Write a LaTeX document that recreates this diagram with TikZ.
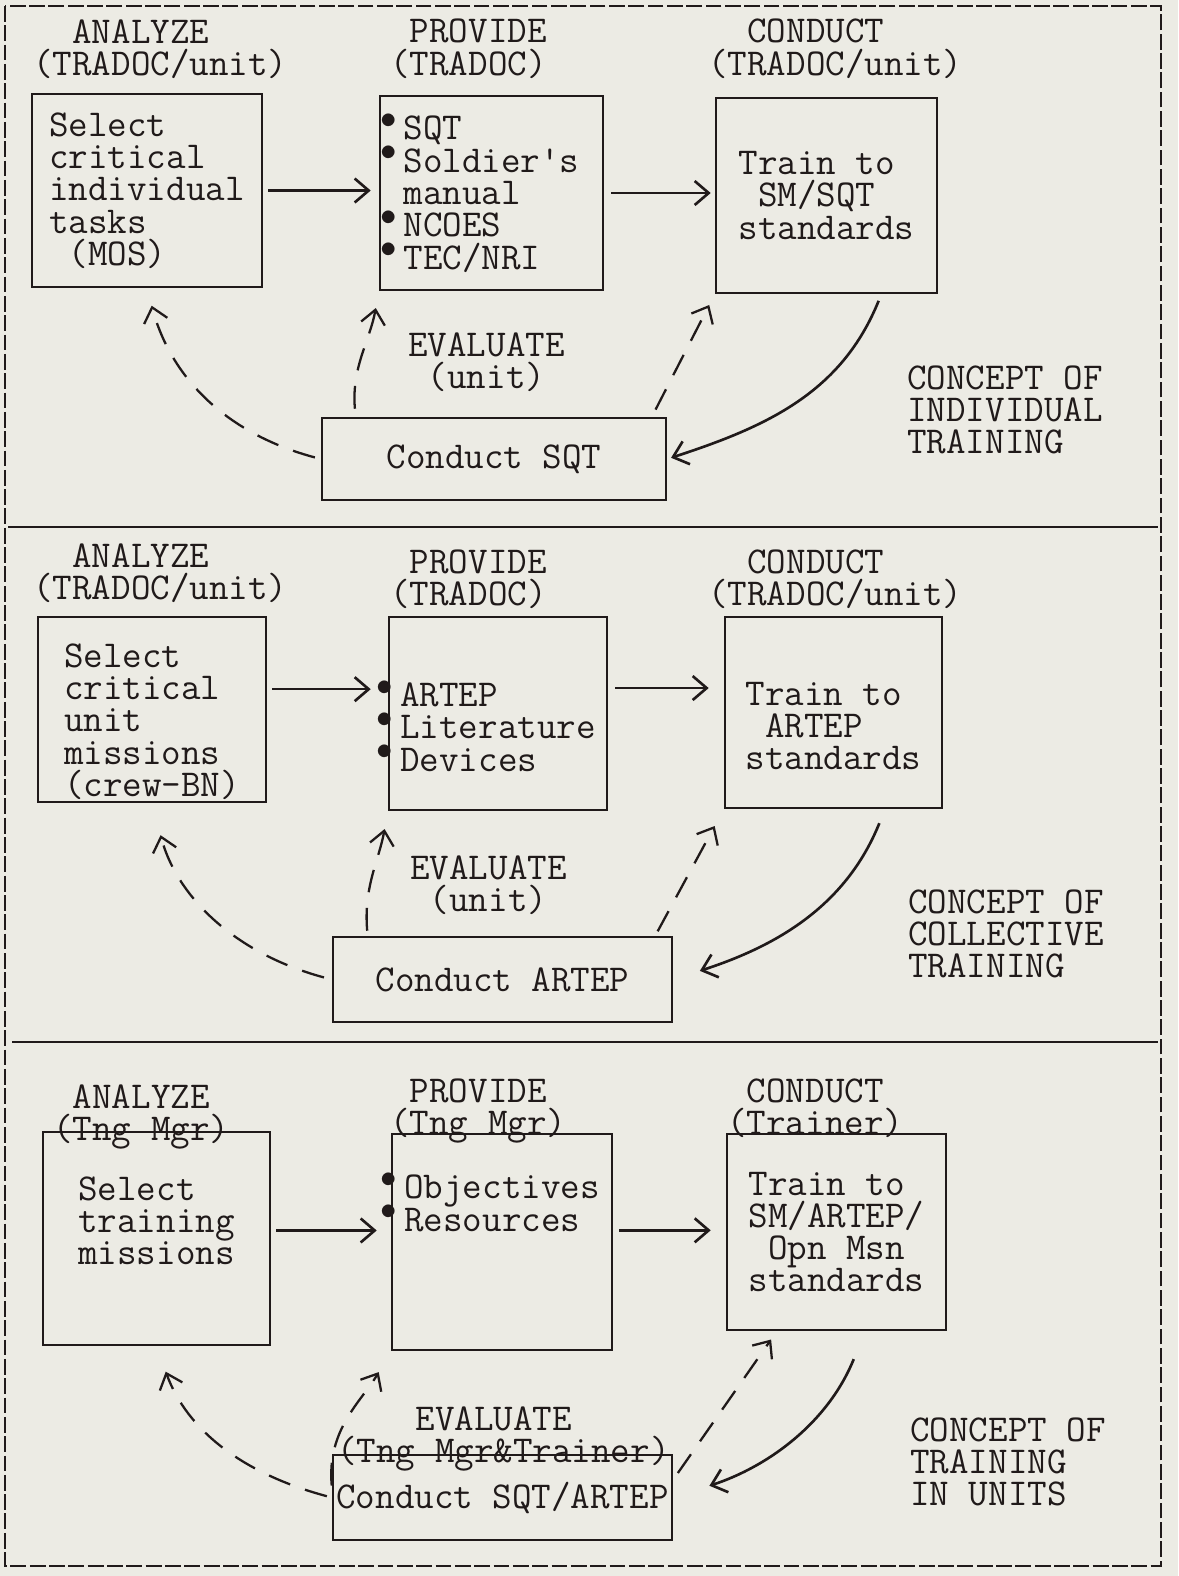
\documentclass[tikz,border=0pt]{standalone}
\usepackage{fontspec}
\usetikzlibrary{arrows.meta}
\definecolor{paper}{RGB}{236,235,228}
\definecolor{ink}{RGB}{32,26,26}
\setlength{\lineskiplimit}{-40pt}
\newcommand\bul{\llap{\raisebox{0.3em}{\scalebox{0.9}{$\bullet$}}\hspace{4pt}}}
\begin{document}
\begin{tikzpicture}[x=0.02cm,y=-0.02cm,>={Straight Barb[length=2.8mm,width=4.8mm]},
  every node/.style={font=\ttfamily\fontsize{21.6}{18.4}\selectfont,text=ink},
  box/.style={draw=ink,line width=1.5pt,inner sep=1pt,align=left},
  lbl/.style={anchor=north west,inner sep=0pt,align=left},
  flow/.style={->,draw=ink,line width=1.5pt},
  fb/.style={->,draw=ink,line width=1.3pt,dash pattern=on 13pt off 9pt},
  tr/.style={->,draw=ink,line width=1.5pt}]
\useasboundingbox (0,0) rectangle (1178,1576);
\fill[paper] (0,0) rectangle (1178,1576);
\draw[ink,line width=1.2pt,dash pattern=on 9pt off 2pt] (5,6) rectangle (1161,1566);
\draw[ink,line width=1.5pt] (8,527) -- (1158,527);
\draw[ink,line width=1.5pt] (12,1042) -- (1158,1042);

\node[lbl] (hana1) at (33,19) {\ \ ANALYZE\\(TRADOC/unit)};
\node[lbl] (hpro1) at (390,19) {\ PROVIDE\\(TRADOC)};
\node[lbl] (hcon1) at (708,19) {\ \ CONDUCT\\(TRADOC/unit)};
\node[lbl] (heva1) at (408,332) {EVALUATE\\\ (unit)};
\node[lbl] (cpt1) at (907,365) {CONCEPT OF\\INDIVIDUAL\\TRAINING};
\node[box,minimum width=4.6cm,minimum height=3.86cm] (sel1) at (147,190.5) {Select\\critical\\individual\\tasks\\\ (MOS)};
\node[box,minimum width=4.46cm,minimum height=3.88cm] (prv1) at (491.5,193) {\bul SQT\\\bul Soldier\textquotesingle s\\manual\\\bul NCOES\\\bul TEC/NRI};
\node[box,minimum width=4.42cm,minimum height=3.9cm] (trn1) at (826.5,195.5) {Train to\\\ SM/SQT\\standards};
\node[box,minimum width=6.88cm,minimum height=1.64cm] (tst1) at (494,459) {Conduct SQT};
\draw[flow,shorten <=0.1cm,shorten >=0.16cm] (sel1.east) -- (sel1.east -| prv1.west);
\draw[flow,shorten <=0.14cm,shorten >=0.08cm] (prv1.east) -- (prv1.east -| trn1.west);
\draw[fb,shorten <=0.12cm,shorten >=0.36cm] (tst1.west) to[out=165,in=-75] (sel1.south);
\draw[fb,shorten <=0.16cm,shorten >=0.34cm] (tst1.163) to[out=95,in=-100] (prv1.south west);
\draw[fb,shorten <=0.16cm,shorten >=0.24cm] (tst1.15) -- (trn1.south west);
\draw[tr,shorten <=0.14cm,shorten >=0.08cm] (trn1.-61) to[out=-112,in=18] (tst1.east);

\node[lbl] (hana2) at (33,543) {\ \ ANALYZE\\(TRADOC/unit)};
\node[lbl] (hpro2) at (390,549) {\ PROVIDE\\(TRADOC)};
\node[lbl] (hcon2) at (708,549) {\ \ CONDUCT\\(TRADOC/unit)};
\node[lbl] (heva2) at (410,855) {EVALUATE\\\ (unit)};
\node[lbl] (cpt2) at (908,889) {CONCEPT OF\\COLLECTIVE\\TRAINING};
\node[box,text depth=0pt,minimum width=4.56cm,minimum height=3.7cm] (sel2) at (152,709.5) {\mbox{}\\[7pt]Select\\critical\\unit\\missions\\(crew-BN)};
\node[box,minimum width=4.36cm,minimum height=3.86cm] (prv2) at (498,713.5) {\mbox{}\\[10.5pt]\bul ARTEP\\\bul Literature\\\bul Devices};
\node[box,minimum width=4.34cm,minimum height=3.82cm] (trn2) at (833.5,712.5) {\mbox{}\\[10pt]Train to\\\ ARTEP\\standards};
\node[box,minimum width=6.78cm,minimum height=1.7cm] (tst2) at (502.5,979.5) {Conduct ARTEP};
\draw[flow,shorten <=0.1cm,shorten >=0.34cm] (sel2.10) -- (sel2.10 -| prv2.west);
\draw[flow,shorten <=0.14cm,shorten >=0.3cm] (prv2.13) -- (prv2.13 -| trn2.west);
\draw[fb,shorten <=0.16cm,shorten >=0.66cm] (tst2.west) to[out=165,in=-75] (sel2.south);
\draw[fb,shorten <=0.1cm,shorten >=0.36cm] (tst2.162) to[out=95,in=-100] (prv2.south west);
\draw[fb,shorten <=0.1cm,shorten >=0.38cm] (tst2.16) -- (trn2.south west);
\draw[tr,shorten <=0.3cm,shorten >=0.56cm] (trn2.-62) to[out=-112,in=18] (tst2.east);

\node[lbl] (hana3) at (53,1084) {\ ANALYZE\\(Tng Mgr)};
\node[lbl] (hpro3) at (390,1078) {\ PROVIDE\\(Tng Mgr)};
\node[lbl] (hcon3) at (727,1078) {\ CONDUCT\\(Trainer)};
\node[lbl] (heva3) at (337,1406) {\ \ \ \ EVALUATE\\(Tng Mgr\&Trainer)};
\node[lbl] (cpt3) at (910,1417) {CONCEPT OF\\TRAINING\\IN UNITS};
\node[box,minimum width=4.54cm,minimum height=4.26cm] (sel3) at (156.5,1238.5) {Select\\training\\missions\\[2pt]\mbox{}};
\node[box,minimum width=4.4cm,minimum height=4.32cm] (prv3) at (502,1242) {\bul Objectives\\\bul Resources\\[27pt]\mbox{}};
\node[box,minimum width=4.38cm,minimum height=3.92cm] (trn3) at (836.5,1232) {Train to\\SM/ARTEP/\\\ Opn Msn\\standards};
\node[box,inner xsep=0pt,minimum width=6.78cm,minimum height=1.7cm] (tst3) at (502.5,1497.5) {Conduct SQT/ARTEP};
\draw[flow,shorten <=0.1cm,shorten >=0.28cm] (sel3.4) -- (sel3.4 -| prv3.west);
\draw[flow,shorten <=0.12cm,shorten >=0.3cm] (prv3.6) -- (prv3.6 -| trn3.west);
\draw[fb,shorten <=0.1cm,shorten >=0.54cm] (tst3.west) to[out=165,in=-70] (sel3.south);
\draw[fb,shorten >=0.48cm] (tst3.176) to[out=95,in=-120] (prv3.south west);
\draw[fb,shorten <=0.16cm,shorten >=0.2cm] (tst3.6) -- (trn3.-121);
\draw[tr,shorten <=0.6cm,shorten >=0.76cm] (trn3.-74) to[out=-112,in=18] (tst3.east);
\end{tikzpicture}
\end{document}
